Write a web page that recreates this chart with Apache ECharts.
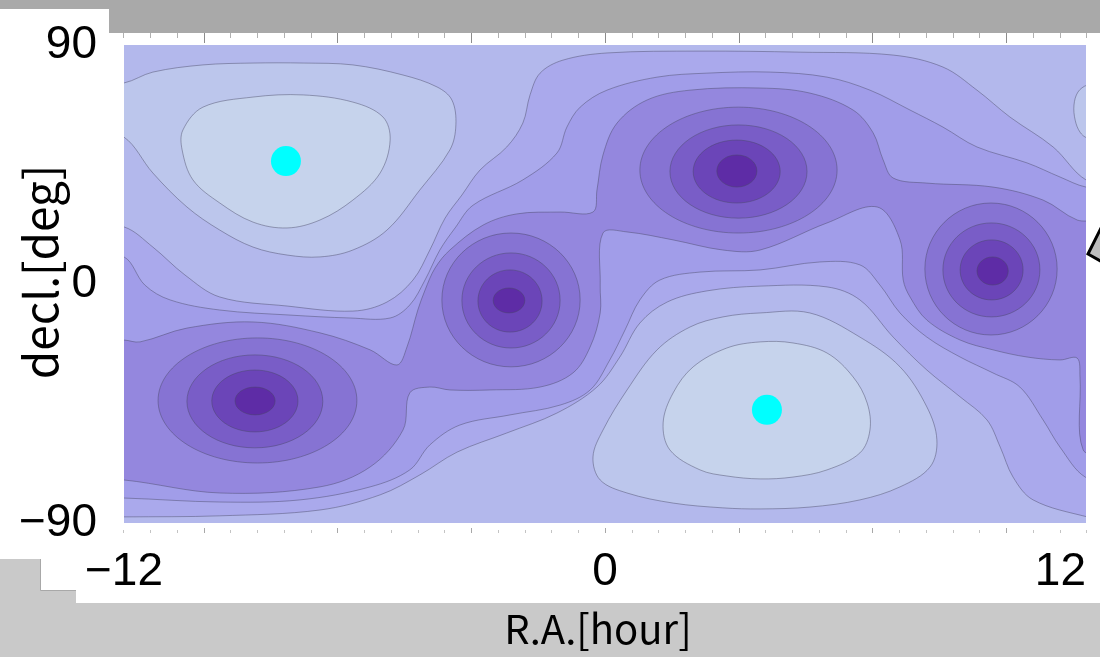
<!DOCTYPE html>
<html>
<head>
<meta charset="utf-8">
<script src="https://cdn.jsdelivr.net/npm/echarts@6/dist/echarts.min.js"></script>
<style>
html, body { margin: 0; padding: 0; background: #ffffff; }
#chart { width: 1100px; height: 657px; }
</style>
</head>
<body>
<div id="chart"></div>
<script>
// Axis ticks
const raTicks = [-12, 0, 12];
const declTicks = [-90, 0, 90];

// Marked positions [R.A. hour, decl. deg]
const markers = [[-7.96, 46.3], [4.04, -47.4]];

// Filled contour band outlines, [R.A. hour, decl. deg]; level 0 = lightest
const band1West = [[-12.60,75.7],[-12.00,75.7],[-11.28,79.8],[-10.03,82.5],[-8.78,83.2],[-7.53,83.2],[-6.29,82.5],[-5.04,78.7],[-4.19,74.2],[-3.82,69.3],[-3.72,59.9],[-3.87,50.5],[-4.62,35.4],[-5.44,20.3],[-6.29,12.8],[-7.11,10.2],[-7.93,10.9],[-8.78,13.9],[-9.61,20.3],[-10.43,29.0],[-11.28,41.8],[-12.00,55.3],[-12.60,55.3]];
const band1East = [[12.35,74.9],[12.03,74.9],[11.80,72.3],[11.70,67.4],[11.73,61.7],[11.85,57.2],[12.03,55.0],[12.35,55.0]];
const band1South = [[-0.05,-55.0],[0.55,-39.9],[1.30,-24.8],[2.12,-16.2],[2.94,-12.4],[3.87,-10.9],[5.11,-10.9],[6.36,-20.0],[7.36,-31.2],[8.03,-46.3],[8.28,-58.7],[8.11,-68.9],[7.36,-76.4],[6.36,-81.3],[5.11,-84.0],[3.87,-84.7],[2.94,-84.3],[1.70,-82.5],[0.55,-78.7],[-0.12,-73.8],[-0.30,-65.1]];
const band0North = [[-10.53,58.0],[-10.03,66.6],[-8.78,70.4],[-7.53,71.2],[-6.29,68.5],[-5.54,62.9],[-5.36,54.2],[-5.61,41.8],[-6.29,31.6],[-7.11,24.1],[-7.93,21.1],[-8.78,23.3],[-9.61,30.5],[-10.28,39.2],[-10.55,50.5]];
const band0South = [[2.20,-31.2],[3.04,-24.1],[3.87,-21.8],[4.69,-22.2],[5.54,-26.0],[6.19,-35.0],[6.54,-44.8],[6.61,-55.0],[6.36,-63.6],[5.54,-70.0],[4.69,-72.7],[3.87,-73.4],[3.04,-72.3],[2.37,-70.0],[1.62,-62.5],[1.45,-52.3],[1.70,-41.0]];
const band3 = [[-12.85,21.5],[-12.00,21.5],[-11.28,13.9],[-10.48,3.4],[-9.61,-4.9],[-7.93,-8.3],[-6.29,-10.2],[-5.44,-6.8],[-4.79,1.5],[-4.37,12.8],[-3.99,24.8],[-3.57,33.5],[-3.12,42.9],[-2.45,51.6],[-2.05,60.6],[-1.87,71.2],[-1.62,79.4],[-1.05,84.3],[0.05,87.0],[2.37,87.7],[4.87,87.3],[7.19,86.2],[8.43,81.7],[9.28,73.0],[10.10,62.9],[11.18,51.6],[12.00,39.2],[12.60,39.2],[12.60,-88.9],[12.03,-87.7],[10.68,-81.3],[10.18,-72.7],[9.86,-61.4],[9.53,-51.2],[8.86,-42.5],[8.03,-32.4],[7.19,-20.0],[6.36,-6.0],[5.54,-1.1],[3.87,-0.8],[2.54,-2.6],[1.55,-6.8],[0.87,-14.7],[0.37,-27.5],[-0.20,-38.8],[-1.20,-48.6],[-2.45,-56.1],[-3.69,-63.3],[-4.62,-71.9],[-5.61,-79.4],[-7.11,-85.1],[-9.61,-87.3],[-12.00,-87.7],[-12.85,-87.7]];
const band4 = [[-12.85,10.2],[-12.00,10.2],[-11.48,-0.4],[-10.85,-6.0],[-9.61,-9.8],[-7.86,-11.7],[-6.36,-12.8],[-5.36,-12.8],[-4.87,-7.9],[-4.49,1.5],[-4.12,12.8],[-3.74,21.1],[-3.29,29.7],[-2.05,39.2],[-1.20,49.3],[-0.95,59.1],[-0.62,66.6],[0.05,73.0],[1.30,77.9],[2.54,79.4],[4.12,79.8],[5.54,77.9],[6.61,73.0],[7.61,65.5],[8.43,59.1],[9.28,51.6],[10.53,45.6],[11.35,40.3],[12.00,36.5],[12.60,36.5],[12.60,-73.0],[11.98,-72.7],[11.35,-61.4],[10.93,-51.2],[10.35,-38.8],[9.68,-33.5],[8.86,-27.5],[8.03,-20.0],[7.36,-10.9],[6.86,-0.4],[6.36,7.2],[5.36,8.3],[3.87,5.3],[2.37,4.5],[1.37,1.5],[0.87,-6.0],[0.50,-17.3],[0.12,-28.6],[-0.37,-39.9],[-1.12,-45.6],[-2.37,-49.3],[-3.62,-53.1],[-4.37,-60.6],[-4.87,-70.0],[-5.86,-76.4],[-7.61,-81.3],[-9.61,-82.1],[-12.00,-80.6],[-12.85,-80.6]];
const band5 = [[-12.85,-21.1],[-12.00,-21.1],[-11.60,-21.8],[-10.43,-16.6],[-8.78,-14.3],[-7.11,-18.4],[-5.86,-24.8],[-5.19,-30.5],[-4.94,-23.7],[-4.67,-9.8],[-4.49,-2.3],[-4.24,6.0],[-3.87,12.8],[-3.04,22.2],[-2.20,26.4],[-1.12,27.1],[-0.30,27.1],[-0.20,35.4],[-0.05,48.6],[0.30,60.6],[1.05,69.3],[2.12,73.0],[3.87,73.8],[5.11,71.9],[6.19,65.5],[6.69,56.9],[6.94,46.7],[7.19,39.9],[8.03,38.0],[9.68,36.5],[10.93,31.6],[11.78,24.1],[12.60,22.2],[12.60,-62.5],[11.93,-62.5],[11.85,-35.0],[11.78,-27.9],[11.35,-28.6],[10.53,-27.5],[9.68,-24.8],[8.86,-21.1],[8.03,-13.6],[7.61,-4.9],[7.44,1.5],[7.36,16.6],[6.79,29.0],[5.54,23.0],[3.87,12.8],[2.94,12.8],[1.70,16.6],[0.55,19.6],[-0.05,19.2],[-0.12,-0.4],[-0.12,-10.9],[-0.37,-23.7],[-0.80,-33.5],[-1.62,-38.8],[-2.87,-39.9],[-3.87,-39.9],[-4.37,-38.8],[-4.87,-41.0],[-5.04,-55.0],[-5.86,-68.9],[-7.11,-76.4],[-9.61,-78.7],[-12.00,-73.8],[-12.85,-73.8]];

// Closed rings round the four deep spots, levels 6..9: [raMin, raMax, declMin, declMax]
const ringsA = [[-11.15,-6.19,-67.4,-20.3],[-10.43,-7.04,-61.7,-26.7],[-9.81,-7.66,-55.7,-32.4],[-9.23,-8.23,-49.3,-38.8]];
const ringsB = [[-4.07,-0.62,-31.2,19.2],[-3.57,-1.12,-24.1,11.7],[-3.17,-1.57,-18.1,5.3],[-2.79,-2.00,-10.9,-1.5]];
const ringsC = [[0.87,5.79,19.2,66.6],[1.62,5.04,24.8,59.9],[2.20,4.37,30.5,54.2],[2.79,3.79,36.5,48.6]];
const ringsD = [[7.98,11.28,-19.2,30.5],[8.43,10.85,-12.4,23.0],[8.86,10.43,-6.0,16.6],[9.28,10.06,-0.4,10.2]];

const palette = ['#c6d3ec','#bcc6ec','#b3b8ec','#aaa9ec','#a19de9','#9487de','#8673d3','#795dc7','#6b45b8','#5e2ca6'];
const lineColor = 'rgba(70,70,100,0.45)';
const tickFont = "'Liberation Sans', Arial, sans-serif";
const titleFont = "'Noto Sans CJK JP', 'Noto Sans', sans-serif";

const regions = [
  [1, band1West], [1, band1East], [1, band1South],
  [0, band0North], [0, band0South],
  [3, band3], [4, band4], [5, band5]
];
const rings = [];
[ringsA, ringsB, ringsC, ringsD].forEach(function (set) {
  set.forEach(function (ext, k) { rings.push({ level: 6 + k, ext: ext }); });
});

function minusFmt(v) { return v < 0 ? '\u2212' + Math.abs(v) : String(v); }

// tick rows along the top and bottom edges of the outer frame
function frameAxis(gridIndex, position, tickLen, minorLen, color, minorColor) {
  return {
    type: 'value', gridIndex: gridIndex, position: position, min: -12, max: 12, interval: 3, z: 1,
    axisLine: { show: false, onZero: false }, splitLine: { show: false }, axisLabel: { show: false },
    axisTick: { show: true, inside: true, length: tickLen, lineStyle: { color: color, width: 1 } },
    minorTick: { show: true, splitNumber: 5, length: minorLen, lineStyle: { color: minorColor, width: 1 } }
  };
}

const chart = echarts.init(document.getElementById('chart'), null, { renderer: 'canvas' });
chart.setOption({
  animation: false,
  backgroundColor: '#ffffff',
  graphic: [
    { type: 'rect', z: -10, shape: { x: 0, y: 0, width: 1100, height: 9 }, style: { fill: '#a9a9a9' } },
    { type: 'rect', z: -10, shape: { x: 109, y: 0, width: 991, height: 33 }, style: { fill: '#a9a9a9' } },
    { type: 'rect', z: -10, shape: { x: 76, y: 603, width: 1024, height: 54 }, style: { fill: '#c9c9c9' } },
    { type: 'rect', z: -10, shape: { x: 40, y: 590, width: 36, height: 67 }, style: { fill: '#c9c9c9' } },
    { type: 'rect', z: -10, shape: { x: 0, y: 559, width: 40, height: 98 }, style: { fill: '#c9c9c9' } },
    { type: 'polyline', z: -9, shape: { points: [[40.5, 559], [40.5, 590.5], [76, 590.5]] }, style: { stroke: '#a8a8a8', lineWidth: 1, fill: null } },
    // left label panel sits over the frame tick rows
    { type: 'rect', z: 2, shape: { x: 0, y: 33, width: 109, height: 12 }, style: { fill: '#ffffff' } },
    { type: 'rect', z: 2, shape: { x: 0, y: 524, width: 109, height: 12 }, style: { fill: '#ffffff' } },
    { type: 'polygon', z: 5, shape: { points: [[1088, 254], [1106, 218], [1106, 264]] }, style: { fill: '#bdbdbd', stroke: '#000000', lineWidth: 3 } }
  ],
  grid: [
    { left: 124, right: 14, top: 45, bottom: 134, show: true, backgroundColor: palette[2], borderWidth: 0, outerBoundsMode: 'none', containLabel: false },
    { left: 70, width: 1070, top: 33, height: 500, show: false, outerBoundsMode: 'none', containLabel: false }
  ],
  xAxis: [
    {
      type: 'value', gridIndex: 0, min: raTicks[0], max: raTicks[2], interval: 12, z: 3,
      axisLine: { show: false }, axisTick: { show: false }, splitLine: { show: false },
      axisLabel: { formatter: minusFmt, fontSize: 46, fontFamily: tickFont, color: '#000', margin: 26, alignMaxLabel: 'right' },
      name: 'R.A.[hour]', nameLocation: 'middle', nameGap: 86, nameMoveOverlap: false,
      nameTextStyle: { fontSize: 40, fontFamily: titleFont, color: '#000', padding: [0, 14, 0, 0] }
    },
    frameAxis(1, 'top', 10, 5, '#8c8c8c', '#b0b0b0'),
    frameAxis(1, 'bottom', 5, 3, '#a8a8a8', '#c4c4c4')
  ],
  yAxis: [
    {
      type: 'value', gridIndex: 0, min: declTicks[0], max: declTicks[2], interval: 90, z: 3,
      axisLine: { show: false }, axisTick: { show: false }, splitLine: { show: false },
      axisLabel: { formatter: minusFmt, fontSize: 46, fontFamily: tickFont, color: '#000', margin: 27 },
      name: 'decl.[deg]', nameLocation: 'middle', nameGap: 60, nameRotate: 90, nameMoveOverlap: false,
      nameTextStyle: { fontSize: 46, fontFamily: titleFont, color: '#000', padding: [0, 0, 0, 24] }
    },
    { type: 'value', gridIndex: 1, min: -1, max: 1, show: false }
  ],
  series: [
    {
      type: 'custom', xAxisIndex: 0, yAxisIndex: 0, clip: true, z: 1,
      data: regions.map(function (r, i) { return i; }),
      renderItem: function (params, api) {
        const r = regions[params.dataIndex];
        return {
          type: 'polygon',
          shape: { points: r[1].map(function (p) { return api.coord(p); }), smooth: 0.35 },
          style: { fill: palette[r[0]], stroke: lineColor, lineWidth: 1 }
        };
      }
    },
    {
      type: 'custom', xAxisIndex: 0, yAxisIndex: 0, clip: true, z: 2,
      data: rings.map(function (r, i) { return i; }),
      renderItem: function (params, api) {
        const r = rings[params.dataIndex];
        const a = api.coord([r.ext[0], r.ext[3]]);
        const b = api.coord([r.ext[1], r.ext[2]]);
        return {
          type: 'ellipse',
          shape: { cx: (a[0] + b[0]) / 2, cy: (a[1] + b[1]) / 2, rx: Math.abs(b[0] - a[0]) / 2, ry: Math.abs(b[1] - a[1]) / 2 },
          style: { fill: palette[r.level], stroke: lineColor, lineWidth: 1 }
        };
      }
    },
    {
      type: 'scatter', xAxisIndex: 0, yAxisIndex: 0, z: 3,
      symbol: 'circle', symbolSize: 30,
      itemStyle: { color: '#00ffff', opacity: 1 },
      data: markers
    }
  ]
});
</script>
</body>
</html>
